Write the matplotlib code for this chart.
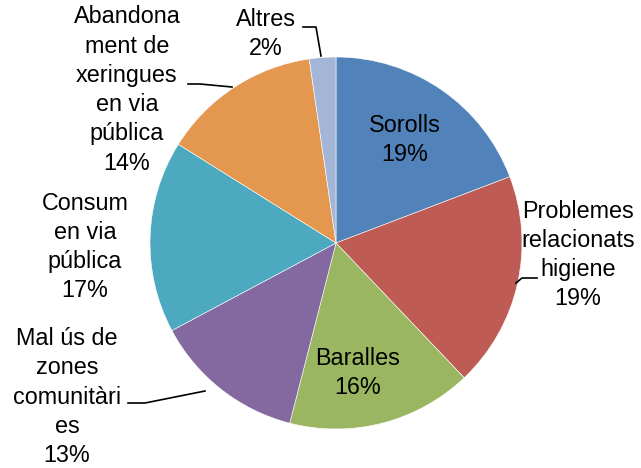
import matplotlib
matplotlib.use("Agg")
import matplotlib.pyplot as plt

plt.rcParams['font.family'] = ['Liberation Sans', 'DejaVu Sans']

# dades llegides del gràfic (%)
categories = ["Sorolls", "Problemes\nrelacionats\nhigiene", "Baralles",
              "Mal ús de\nzones\ncomunitàri\nes", "Consum\nen via\npública",
              "Abandona\nment de\nxeringues\nen via\npública", "Altres"]
valors = [19.2, 18.7, 16.1, 13.2, 16.7, 13.8, 2.3]
colors = ['#5183BA', '#BD5B54', '#9BB660', '#8468A0', '#4DA9C0', '#E3974F', '#A4B6D8']

W, H = 641, 468
CX, CY, R = 336, 243, 186


def px(x, y):
    # pixel de la imatge -> coordenades dels eixos (radi = 1)
    return (x - CX) / R, (CY - y) / R


fig = plt.figure(figsize=(W / 100, H / 100), dpi=100)
ax = fig.add_axes([0, 0, 1, 1])
ax.pie(valors, colors=colors, startangle=90, counterclock=False, radius=1,
       wedgeprops=dict(edgecolor='white', linewidth=0.4))
ax.set_xlim(-CX / R, (W - CX) / R)
ax.set_ylim(-(H - CY) / R, CY / R)
ax.set_aspect('auto')
ax.axis('off')

# posicions de les etiquetes (px) i línies guia
pos = [(405, 140), (578, 255), (358, 373), (67, 397), (85, 247), (127, 90), (266, 34)]
guies = [None,
         [(537, 278), (522, 278), (516, 283)],
         None,
         [(128, 403), (145, 403), (205, 391)],
         None,
         [(188, 84), (200, 84), (232, 87)],
         [(303, 27), (316, 27), (321, 56)]]

for cat, v, p, g in zip(categories, valors, pos, guies):
    x, y = px(*p)
    ax.text(x, y, f"{cat}\n{round(v)}%", ha='center', va='center',
            fontsize=16.8, linespacing=1.35, color='black')
    if g:
        xs, ys = zip(*[px(a, b) for a, b in g])
        ax.plot(xs, ys, color='black', lw=1.2)

fig.savefig("out.png", dpi=100)
